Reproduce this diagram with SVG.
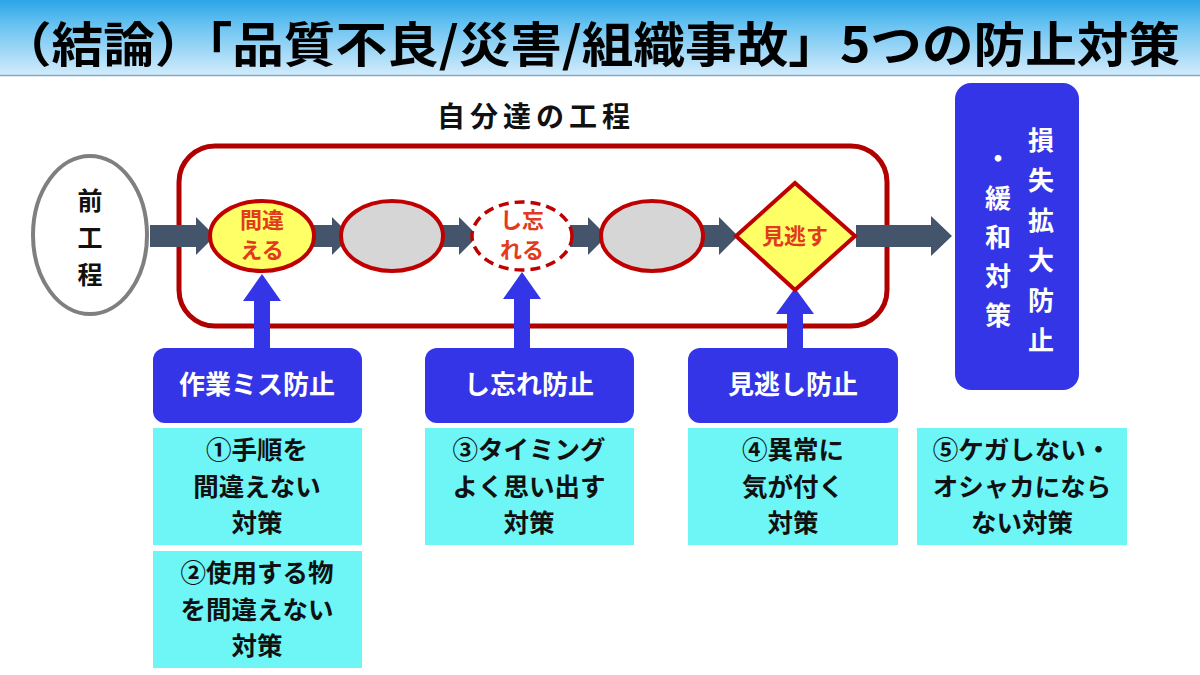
<svg xmlns="http://www.w3.org/2000/svg" width="1200" height="675" viewBox="0 0 1200 675">
<defs>
<linearGradient id="tg" x1="0" y1="0" x2="0" y2="1">
<stop offset="0" stop-color="#2aa6e6"/>
<stop offset="0.35" stop-color="#6cc4f2"/>
<stop offset="1" stop-color="#d4ecfb"/>
</linearGradient>
<style>
text{font-family:"Noto Sans CJK JP","Noto Sans",sans-serif;font-weight:bold;text-anchor:middle}
.gar{fill:#44546a}
.bar{fill:#3535e8}
.bbox{fill:#3535e8}
.cbox{fill:#6ef5f6}
.wt{fill:#ffffff;font-size:26px}
.bt{fill:#111111;font-size:25.5px}
.rt{fill:#e23a1c;font-size:22px}
.proc{stroke:#c00000;stroke-width:4}
</style>
</defs>
<rect width="1200" height="675" fill="#ffffff"/>
<g id="title">
<rect x="0" y="0" width="1200" height="76" fill="url(#tg)"/>
<line x1="0" y1="75.5" x2="1200" y2="75.5" stroke="#7fa9c9" stroke-width="1.5"/>
<text x="590" y="62" font-size="48" textLength="1180" lengthAdjust="spacingAndGlyphs" fill="#000000">（結論）「品質不良/災害/組織事故」5つの防止対策</text>
</g>
<g id="own-process">
<rect x="179" y="146" width="708" height="180" rx="36" fill="none" stroke="#b00000" stroke-width="5"/>
<text x="536" y="127" font-size="28" fill="#111111" letter-spacing="5">自分達の工程</text>
</g>
<g id="prev-process">
<ellipse cx="90" cy="235" rx="57" ry="79" fill="#ffffff" stroke="#7f7f7f" stroke-width="4"/>
<text x="90" y="210" font-size="25" fill="#111111">前</text>
<text x="90" y="247" font-size="25" fill="#111111">工</text>
<text x="90" y="284" font-size="25" fill="#111111">程</text>
</g>
<g id="connectors">
<polygon class="gar" points="150,225 196,225 196,217 215,236 196,255 196,247 150,247"/>
<polygon class="gar" points="314,225 332,225 332,217 351,236 332,255 332,247 314,247"/>
<polygon class="gar" points="440,225 459,225 459,217 478,236 459,255 459,247 440,247"/>
<polygon class="gar" points="570,225 588,225 588,217 607,236 588,255 588,247 570,247"/>
<polygon class="gar" points="700,225 719,225 719,217 738,236 719,255 719,247 700,247"/>
<polygon class="gar" points="856,225 931,225 931,216 952,236 931,256 931,247 856,247"/>
<polygon class="bar" points="254,349 254,301 243,301 262,274 281,301 270,301 270,349"/>
<polygon class="bar" points="514,349 514,299 503,299 522,272 541,299 530,299 530,349"/>
<polygon class="bar" points="787,349 787,314 776,314 795,288 814,314 803,314 803,349"/>
</g>
<g id="n-machigaeru">
<ellipse class="proc" cx="262" cy="236" rx="52" ry="35" fill="#ffff66"/>
<text class="rt" x="262" y="228">間違</text>
<text class="rt" x="262" y="258">える</text>
</g>
<g id="n-grey1">
<ellipse class="proc" cx="392" cy="236" rx="51" ry="35" fill="#d6d6d6"/>
</g>
<g id="n-shiwasureru">
<ellipse cx="522" cy="236" rx="50" ry="34" fill="#ffffff" stroke="#c00000" stroke-width="3.5" stroke-dasharray="10,6"/>
<text class="rt" x="522" y="228">し忘</text>
<text class="rt" x="522" y="258">れる</text>
</g>
<g id="n-grey2">
<ellipse class="proc" cx="652" cy="236" rx="51" ry="35" fill="#d6d6d6"/>
</g>
<g id="n-minogasu">
<polygon class="proc" points="795,183 855,236 795,290 736,236" fill="#ffff66"/>
<text class="rt" x="795" y="244">見逃す</text>
</g>
<g id="n-mitigation">
<rect x="955" y="83" width="124" height="307" rx="16" fill="#3535e8"/>
<text class="wt" x="1041" y="150">損</text>
<text class="wt" x="1041" y="190">失</text>
<text class="wt" x="1041" y="230">拡</text>
<text class="wt" x="1041" y="270">大</text>
<text class="wt" x="1041" y="310">防</text>
<text class="wt" x="1041" y="350">止</text>
<text class="wt" x="998" y="168">・</text>
<text class="wt" x="998" y="208">緩</text>
<text class="wt" x="998" y="247">和</text>
<text class="wt" x="998" y="286">対</text>
<text class="wt" x="998" y="325">策</text>
</g>
<g id="b-sagyou">
<rect class="bbox" x="153" y="348" width="209" height="75" rx="12"/>
<text class="wt" x="257" y="394">作業ミス防止</text>
</g>
<g id="b-shiwasure">
<rect class="bbox" x="425" y="348" width="209" height="75" rx="12"/>
<text class="wt" x="529" y="394">し忘れ防止</text>
</g>
<g id="b-minogashi">
<rect class="bbox" x="688" y="348" width="210" height="75" rx="12"/>
<text class="wt" x="793" y="394">見逃し防止</text>
</g>
<g id="c1">
<rect class="cbox" x="153" y="428" width="209" height="117"/>
<text class="bt" x="257" y="459">①手順を</text>
<text class="bt" x="257" y="496">間違えない</text>
<text class="bt" x="257" y="532">対策</text>
</g>
<g id="c2">
<rect class="cbox" x="153" y="551" width="209" height="117"/>
<text class="bt" x="257" y="582">②使用する物</text>
<text class="bt" x="257" y="619">を間違えない</text>
<text class="bt" x="257" y="655">対策</text>
</g>
<g id="c3">
<rect class="cbox" x="425" y="428" width="209" height="117"/>
<text class="bt" x="529" y="459">③タイミング</text>
<text class="bt" x="529" y="496">よく思い出す</text>
<text class="bt" x="529" y="532">対策</text>
</g>
<g id="c4">
<rect class="cbox" x="688" y="428" width="210" height="117"/>
<text class="bt" x="793" y="459">④異常に</text>
<text class="bt" x="793" y="496">気が付く</text>
<text class="bt" x="793" y="532">対策</text>
</g>
<g id="c5">
<rect class="cbox" x="917" y="428" width="210" height="117"/>
<text class="bt" x="1022" y="459">⑤ケガしない・</text>
<text class="bt" x="1022" y="496">オシャカになら</text>
<text class="bt" x="1022" y="532">ない対策</text>
</g>
</svg>
